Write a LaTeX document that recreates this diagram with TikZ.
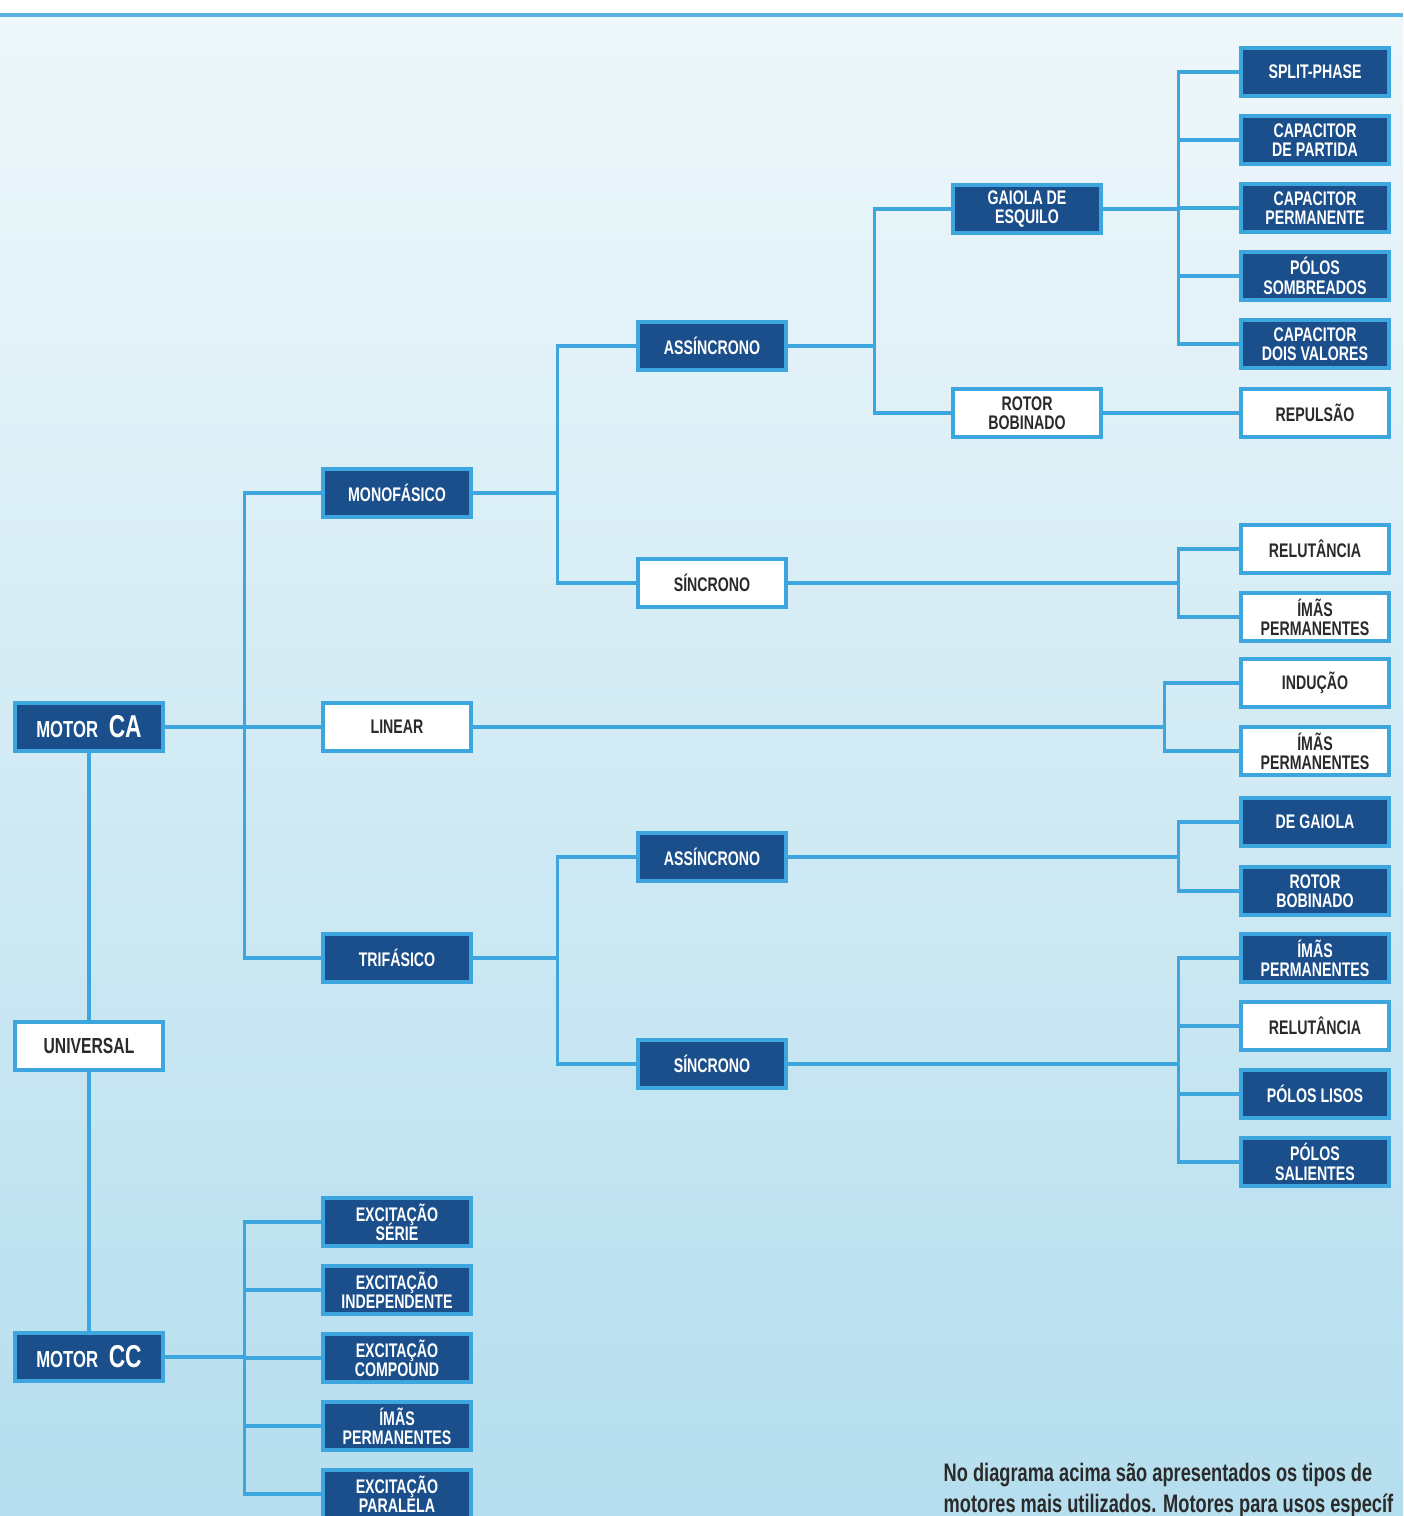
\documentclass[tikz,border=0pt]{standalone}
\usepackage{fontspec}
\setmainfont{Liberation Sans}[FakeStretch=0.72]
\usetikzlibrary{positioning,calc}
\definecolor{navy}{HTML}{1B4F8C}
\definecolor{wire}{HTML}{3DA6DE}
\definecolor{skytop}{HTML}{EEF7FA}
\definecolor{skybot}{HTML}{B5DEEE}
\definecolor{ink}{HTML}{2A2A2A}
\newcommand{\labelfont}{\bfseries\fontsize{5.6}{5.5}\selectfont\lineskiplimit-6pt\relax\lineskip0pt\relax}
\tikzset{
  dark/.style={draw=wire,fill=navy,text=white,line width=0.9pt,minimum width=1.48cm,minimum height=0.48cm,
    inner sep=0pt,align=center,font=\labelfont},
  light/.style={dark,fill=white,text=ink},
  link/.style={wire,line width=0.9pt},
  notetext/.style={anchor=west,inner sep=0pt,text=ink,font=\bfseries\fontsize{7.2}{8}\selectfont},
}
% parent, bus offset, children
\newcommand{\fork}[3]{\foreach \c in {#3} \draw[link] (#1.east) -- ++(#2,0) |- (\c.west);}

\begin{document}
\begin{tikzpicture}[x=0.01cm,y=-0.01cm]
\useasboundingbox (0,0) rectangle (1403,1516);
\fill[white] (0,0) rectangle (1403,15);
\shade[top color=skytop,bottom color=skybot] (0,15) rectangle (1403,1516);
\draw[wire!85,line width=1.2pt] (0,15) -- (1403,15);

% roots
\node[dark,font=\bfseries] (ca) at (89,727) {{\fontsize{6.6}{7}\selectfont MOTOR}\hspace{3pt}{\fontsize{9}{9}\selectfont CA}};
\node[light,font=\bfseries\fontsize{6.2}{6}\selectfont] (univ) at (89,1046) {UNIVERSAL};
\node[dark,font=\bfseries] (cc) at (89,1357) {{\fontsize{6.6}{7}\selectfont MOTOR}\hspace{3pt}{\fontsize{9}{9}\selectfont CC}};

% alternating current
\node[dark] (mono) at (397,493) {MONOFÁSICO};
\node[light] (lin) at (397,727) {LINEAR};
\node[dark] (tri) at (397,958) {TRIFÁSICO};

\node[dark] (masy) at (712,346) {ASSÍNCRONO};
\node[light] (msyn) at (712,583) {SÍNCRONO};
\node[dark] (tasy) at (712,857) {ASSÍNCRONO};
\node[dark] (tsyn) at (712,1064) {SÍNCRONO};

\node[dark] (gai) at (1027,209) {GAIOLA DE\\ESQUILO};
\node[light] (rot) at (1027,413) {ROTOR\\BOBINADO};

\node[dark] (split) at (1315,72) {SPLIT-PHASE};
\node[dark] (cpart) at (1315,140) {CAPACITOR\\DE PARTIDA};
\node[dark] (cperm) at (1315,208) {CAPACITOR\\PERMANENTE};
\node[dark] (psomb) at (1315,276) {PÓLOS\\SOMBREADOS};
\node[dark] (cdois) at (1315,344) {CAPACITOR\\DOIS VALORES};
\node[light] (rep) at (1315,413) {REPULSÃO};
\node[light] (mrel) at (1315,549) {RELUTÂNCIA};
\node[light] (mima) at (1315,617) {ÍMÃS\\PERMANENTES};
\node[light] (lind) at (1315,683) {INDUÇÃO};
\node[light] (lima) at (1315,751) {ÍMÃS\\PERMANENTES};
\node[dark] (dgai) at (1315,822) {DE GAIOLA};
\node[dark] (trot) at (1315,891) {ROTOR\\BOBINADO};
\node[dark] (tima) at (1315,958) {ÍMÃS\\PERMANENTES};
\node[light] (trel) at (1315,1026) {RELUTÂNCIA};
\node[dark] (plis) at (1315,1094) {PÓLOS LISOS};
\node[dark] (psal) at (1315,1162) {PÓLOS\\SALIENTES};

% direct current
\node[dark] (eser) at (397,1222) {EXCITAÇÃO\\SÉRIE};
\node[dark] (eind) at (397,1290) {EXCITAÇÃO\\INDEPENDENTE};
\node[dark] (ecom) at (397,1358) {EXCITAÇÃO\\COMPOUND};
\node[dark] (cima) at (397,1426) {ÍMÃS\\PERMANENTES};
\node[dark] (epar) at (397,1494) {EXCITAÇÃO\\PARALELA};

% connectors
\draw[link] (ca) -- (univ) -- (cc);
\fork{ca}{80}{mono,lin,tri}
\fork{cc}{80}{eser,eind,ecom,cima,epar}
\fork{mono}{85}{masy,msyn}
\fork{tri}{85}{tasy,tsyn}
\fork{masy}{87}{gai,rot}
\fork{gai}{76}{split,cpart,cperm,psomb,cdois}
\draw[link] (rot) -- (rep);
\fork{msyn}{391}{mrel,mima}
\fork{lin}{692}{lind,lima}
\fork{tasy}{391}{dgai,trot}
\fork{tsyn}{391}{tima,trel,plis,psal}

% note
\node[notetext] (note1) at (943,1475) {No diagrama acima são apresentados os tipos de};
\node[notetext] (note2) at (943,1506) {motores mais utilizados. Motores para usos específ};
\end{tikzpicture}
\end{document}
